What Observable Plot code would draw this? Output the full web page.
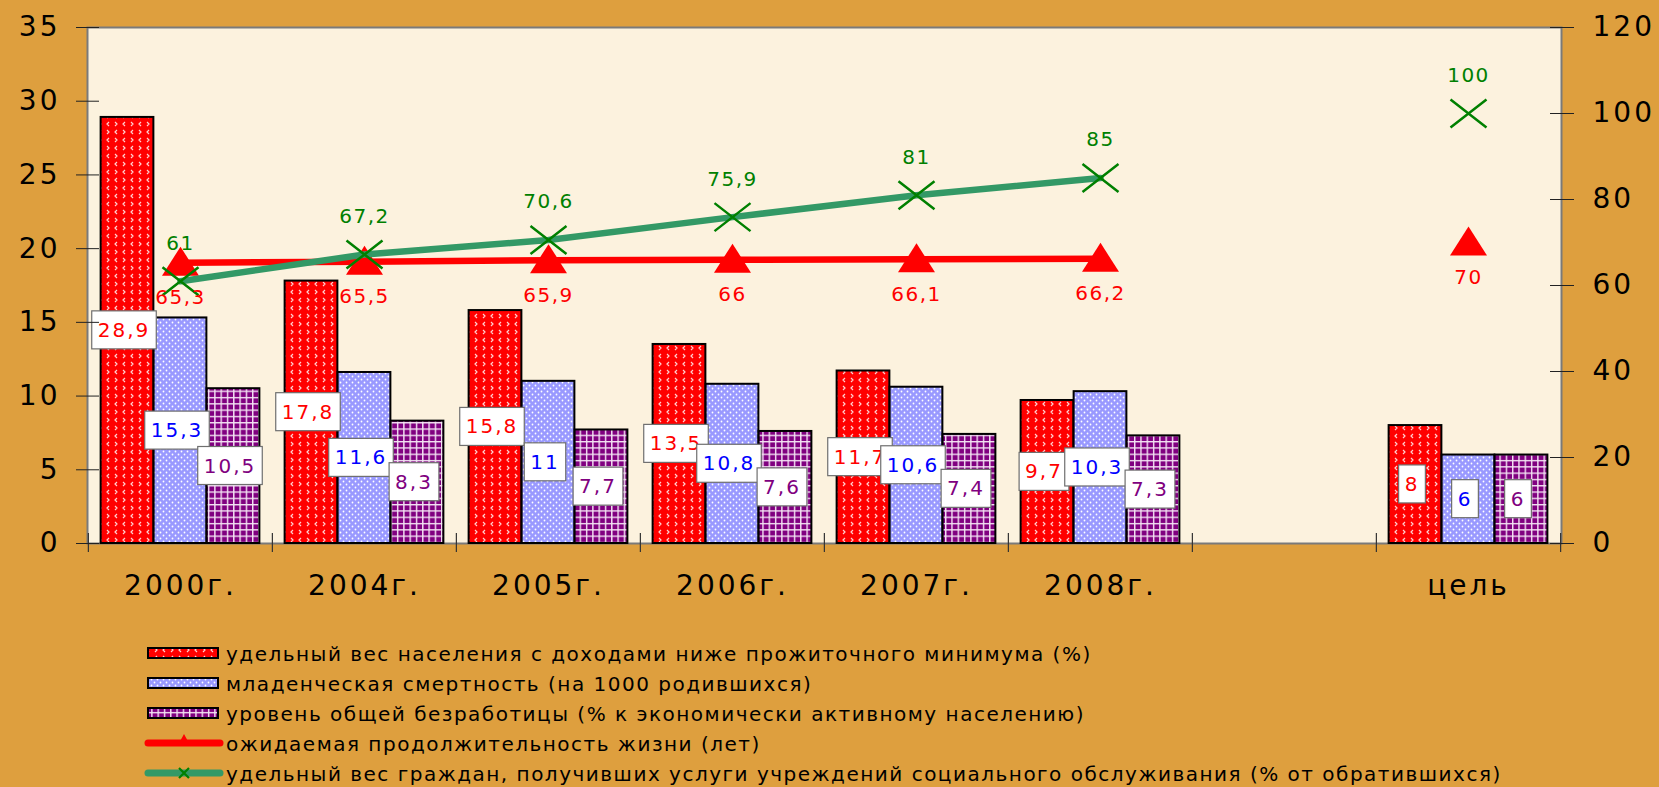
<!DOCTYPE html>
<html><head><meta charset="utf-8">
<script src="https://cdn.jsdelivr.net/npm/d3@7"></script>
<script src="https://cdn.jsdelivr.net/npm/@observablehq/plot@0.6"></script>
<style>
html,body{margin:0;padding:0;background:#DE9F3E;overflow:hidden;width:1659px;height:787px;}
#chart svg,#legend{display:block;}
svg text{font-family:"DejaVu Sans",Verdana,sans-serif;}
#legend text{letter-spacing:1.5px;font-size:20px;fill:#000;}
</style></head><body>
<svg width="0" height="0" style="position:absolute">
  <defs>
    <pattern id="p-red" patternUnits="userSpaceOnUse" width="16" height="16">
      <rect width="16" height="16" fill="#FF0000"/>
      <path d="M5,2 L3,4 L5,6 M11,2 L13,4 L11,6 M3,10 L5,12 L3,14 M13,10 L11,12 L13,14" stroke="#FFD0D0" stroke-width="1.2" fill="none"/>
    </pattern>
    <pattern id="p-blue" patternUnits="userSpaceOnUse" width="6" height="6">
      <rect width="6" height="6" fill="#9999FF"/>
      <circle cx="1.5" cy="1.5" r="0.9" fill="#FFFFFF"/>
      <circle cx="4.5" cy="4.5" r="0.9" fill="#FFFFFF"/>
    </pattern>
    <pattern id="p-purple" patternUnits="userSpaceOnUse" width="6.3" height="6.3">
      <rect width="6.3" height="6.3" fill="#800080"/>
      <path d="M0.7,0 V6.3 M0,0.7 H6.3" stroke="#F4E4F4" stroke-width="1.4" fill="none"/>
    </pattern>
  </defs>
</svg>
<div id="chart"></div>
<svg id="legend" width="1659" height="157"></svg>
<script>
// ---- data ----
const categories = ["2000г.", "2004г.", "2005г.", "2006г.", "2007г.", "2008г.", " ", "цель"];
const years = ["2000г.", "2004г.", "2005г.", "2006г.", "2007г.", "2008г."];
const targetCategory = "цель";

const poverty = [28.9, 17.8, 15.8, 13.5, 11.7, 9.7];
const povertyTarget = 8;
const infantMortality = [15.3, 11.6, 11, 10.8, 10.6, 10.3];
const infantMortalityTarget = 6;
const unemployment = [10.5, 8.3, 7.7, 7.6, 7.4, 7.3];
const unemploymentTarget = 6;
const lifeExpectancy = [65.3, 65.5, 65.9, 66, 66.1, 66.2];
const lifeExpectancyTarget = 70;
const socialServices = [61, 67.2, 70.6, 75.9, 81, 85];
const socialServicesTarget = 100;

const leftTicks = [0, 5, 10, 15, 20, 25, 30, 35];
const rightTicks = [0, 20, 40, 60, 80, 100, 120];

const seriesNames = [
  "удельный вес населения с доходами ниже прожиточного минимума (%)",
  "младенческая смертность (на 1000 родившихся)",
  "уровень общей безработицы (% к экономически активному населению)",
  "ожидаемая продолжительность жизни (лет)",
  "удельный вес граждан, получивших услуги учреждений социального обслуживания (% от обратившихся)"
];

// ---- layout ----
const W = 1659, H = 630, mL = 87, mR = 98, mT = 27, mB = 87;
const bw = (W - mL - mR) / categories.length;
const barW = 53;
const k = 35 / 120; // right axis -> left axis units
const fmt = v => String(v).replace(".", ",");

const withTarget = (arr, t) => [...years.map((c, i) => ({cat: c, v: arr[i]})), {cat: targetCategory, v: t}];
const povertyData = withTarget(poverty, povertyTarget);
const infantData = withTarget(infantMortality, infantMortalityTarget);
const unempData = withTarget(unemployment, unemploymentTarget);
const lifeData = years.map((c, i) => ({cat: c, v: lifeExpectancy[i]}));
const lifeAll = withTarget(lifeExpectancy, lifeExpectancyTarget);
const socialData = years.map((c, i) => ({cat: c, v: socialServices[i]}));
const socialAll = withTarget(socialServices, socialServicesTarget);

const bars = (data, j, fill) => Plot.barY(data, {
  x: "cat", y: "v", fill, stroke: "#000", strokeWidth: 2,
  insetLeft: bw / 2 + j * barW - barW / 2, insetRight: bw / 2 - j * barW - barW / 2
});
const barLabels = (data, j, color) => Plot.text(data, {
  x: "cat", y: d => d.v / 2, text: d => fmt(d.v), fill: color, dx: j * barW - 3.5,
  fontSize: 20, ariaDescription: "bar-label"
});

const timesSymbol = {draw(ctx) { ctx.moveTo(-18, -14); ctx.lineTo(18, 14); ctx.moveTo(-18, 14); ctx.lineTo(18, -14); }};
const triangleSymbol = {draw(ctx) { ctx.moveTo(0, -16); ctx.lineTo(18.5, 13); ctx.lineTo(-18.5, 13); ctx.closePath(); }};

const chart = Plot.plot({
  width: W, height: H,
  marginLeft: mL, marginRight: mR, marginTop: mT, marginBottom: mB,
  style: {background: "transparent", color: "#000", fontFamily: "DejaVu Sans", letterSpacing: "3px", overflow: "visible"},
  x: {type: "band", domain: categories, padding: 0, label: null},
  y: {domain: [0, 35], label: null},
  marks: [
    Plot.frame({fill: "#FCF2DE", stroke: "#7a7a7a", strokeWidth: 2}),
    bars(povertyData, -1, "url(#p-red)"),
    bars(infantData, 0, "url(#p-blue)"),
    bars(unempData, 1, "url(#p-purple)"),
    // category boundary ticks
    Plot.ruleX(categories, {dx: -bw / 2, insetTop: (H - mT - mB) - 10, insetBottom: -9, stroke: "#333", strokeWidth: 1.2}),
    Plot.ruleX([categories[categories.length - 1]], {dx: bw / 2, insetTop: (H - mT - mB) - 10, insetBottom: -9, stroke: "#333", strokeWidth: 1.2}),
    // life expectancy
    Plot.line(lifeData, {x: "cat", y: d => d.v * k, stroke: "#FF0000", strokeWidth: 6.5}),
    Plot.dot(lifeAll, {x: "cat", y: d => d.v * k, symbol: triangleSymbol, fill: "#FF0000", stroke: null}),
    // social services
    Plot.line(socialData, {x: "cat", y: d => d.v * k, stroke: "#339966", strokeWidth: 6.5}),
    Plot.dot(socialAll, {x: "cat", y: d => d.v * k, symbol: timesSymbol, stroke: "#008000", strokeWidth: 2.5, fill: "none"}),
    // bar labels
    barLabels(povertyData, -1, "#FF0000"),
    barLabels(infantData, 0, "#0000FF"),
    barLabels(unempData, 1, "#800080"),
    // line labels
    Plot.text(lifeAll, {x: "cat", y: d => d.v * k, text: d => fmt(d.v), fill: "#FF0000", dy: 35, fontSize: 20, ariaDescription: "line-label"}),
    Plot.text(socialAll, {x: "cat", y: d => d.v * k, text: d => fmt(d.v), fill: "#008000", dy: -38, fontSize: 20, ariaDescription: "line-label"}),
    // axes
    Plot.axisY({ticks: leftTicks, anchor: "left", tickSize: 11, tickPadding: 16, fontSize: 28, stroke: "#222"}),
    Plot.axisY({ticks: leftTicks, anchor: "left", tickSize: 12, dx: 12, tickFormat: () => "", stroke: "#222"}),
    Plot.axisY({ticks: rightTicks.map(v => v * k), anchor: "right", tickSize: 12, tickPadding: 19, fontSize: 28, tickFormat: d => String(Math.round(d / k)), stroke: "#222"}),
    Plot.axisY({ticks: rightTicks.map(v => v * k), anchor: "right", tickSize: 12, dx: -12, tickFormat: () => "", stroke: "#222"}),
    Plot.axisX({tickSize: 0, tickPadding: 32, fontSize: 28})
  ]
});
document.getElementById("chart").append(chart);

// find the text mark groups (in mark order): 3 bar-label groups, then 2 line-label groups
let textGroups = [...chart.querySelectorAll('g[aria-description="bar-label"], g[aria-description="line-label"]')];
if (textGroups.length < 5) textGroups = [...chart.querySelectorAll('g[aria-label="text"]')];
const barGroups = textGroups.slice(0, 3);
const lineGroups = textGroups.slice(3, 5);
lineGroups.forEach(g => g.style.letterSpacing = "1.5px");
barGroups.forEach(g => {
  g.style.letterSpacing = "2px";
  g.querySelectorAll("text").forEach(t => {
    const bb = t.getBBox();
    const cy = bb.y + bb.height / 2;
    const r = document.createElementNS("http://www.w3.org/2000/svg", "rect");
    r.setAttribute("x", bb.x - 6);
    r.setAttribute("y", cy - 19);
    r.setAttribute("width", bb.width + 12);
    r.setAttribute("height", 38);
    r.setAttribute("fill", "#FFFFFF");
    r.setAttribute("stroke", "#6f6f6f");
    r.setAttribute("stroke-width", 1.2);
    const tr = t.getAttribute("transform");
    if (tr) r.setAttribute("transform", tr);
    t.parentNode.insertBefore(r, t);
  });
});

// legend
const lg = d3.select("#legend");
const items = [
  {type: "bar", fill: "url(#p-red)"},
  {type: "bar", fill: "url(#p-blue)"},
  {type: "bar", fill: "url(#p-purple)"},
  {type: "line", stroke: "#FF0000", marker: "triangle"},
  {type: "line", stroke: "#339966", marker: "times"}
];
items.forEach((it, i) => {
  const cy = 23 + i * 30;
  const g = lg.append("g");
  if (it.type === "bar") {
    g.append("rect").attr("x", 148).attr("y", cy - 5).attr("width", 70).attr("height", 10)
      .attr("fill", it.fill).attr("stroke", "#000").attr("stroke-width", 2);
  } else {
    g.append("line").attr("x1", 148).attr("x2", 220).attr("y1", cy).attr("y2", cy)
      .attr("stroke", it.stroke).attr("stroke-width", 7).attr("stroke-linecap", "round");
    if (it.marker === "triangle") {
      g.append("path").attr("d", `M184,${cy - 9} L190,${cy + 2} L178,${cy + 2} Z`).attr("fill", "#FF0000");
    } else {
      g.append("path").attr("d", `M179,${cy - 5} L189,${cy + 5} M179,${cy + 5} L189,${cy - 5}`)
        .attr("stroke", "#008000").attr("stroke-width", 2.2).attr("fill", "none");
    }
  }
  g.append("text").attr("x", 226).attr("y", cy + 7.5).text(seriesNames[i]);
});
</script>
</body></html>
